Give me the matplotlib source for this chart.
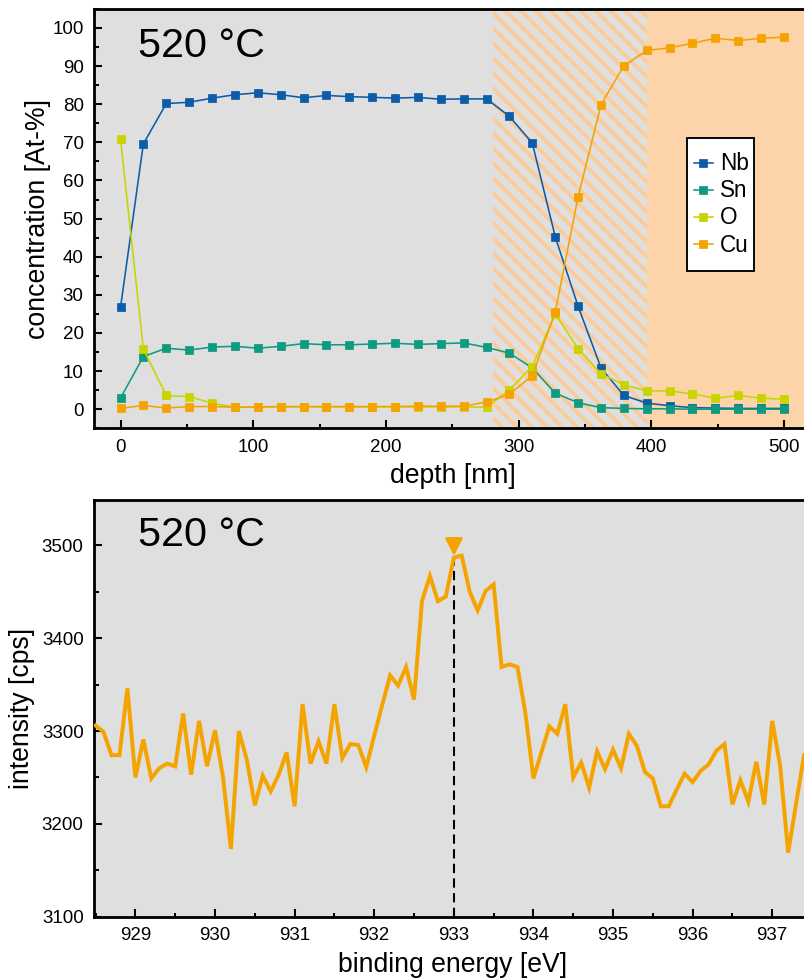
import numpy as np
import matplotlib
matplotlib.use("Agg")
import matplotlib.pyplot as plt
from matplotlib.ticker import MultipleLocator
from matplotlib.patches import Rectangle

plt.rcParams['font.family'] = ['Liberation Sans', 'DejaVu Sans']
plt.rcParams['hatch.linewidth'] = 2.0

DPI = 135

# ---- depth profile (520 °C) ----
depth_nm = [0.0, 17.2, 34.5, 51.7, 69.0, 86.2, 103.4, 120.7, 137.9, 155.2,
            172.4, 189.7, 206.9, 224.1, 241.4, 258.6, 275.9, 293.1, 310.3, 327.6,
            344.8, 362.1, 379.3, 396.6, 413.8, 431.0, 448.3, 465.5, 482.8, 500.0]
nb = [26.7, 69.6, 80.2, 80.5, 81.6, 82.5, 83.0, 82.5, 81.7, 82.3,
      82.0, 81.8, 81.6, 81.8, 81.3, 81.4, 81.4, 76.8, 69.8, 45.2,
      27.0, 10.8, 3.6, 1.6, 0.9, 0.4, 0.3, 0.2, 0.2, 0.2]
sn = [2.9, 13.8, 16.0, 15.5, 16.3, 16.5, 16.0, 16.5, 17.2, 16.9,
      16.9, 17.1, 17.3, 17.0, 17.2, 17.4, 16.2, 14.7, 10.8, 4.2,
      1.7, 0.4, 0.2, 0.1, 0.1, 0.0, 0.0, 0.0, 0.0, 0.0]
o = [70.8, 15.8, 3.6, 3.3, 1.6, 0.5, 0.5, 0.6, 0.6, 0.6,
     0.6, 0.6, 0.6, 0.6, 0.6, 0.6, 0.5, 5.1, 11.2, 25.0,
     15.9, 9.3, 6.4, 4.8, 4.8, 4.0, 2.9, 3.6, 2.9, 2.6]
cu = [0.2, 1.0, 0.3, 0.7, 0.7, 0.5, 0.6, 0.7, 0.7, 0.7,
      0.7, 0.7, 0.7, 0.8, 0.8, 0.8, 1.9, 3.9, 8.8, 25.5,
      55.7, 79.9, 90.1, 94.1, 94.8, 96.0, 97.3, 96.7, 97.3, 97.6]
series_names = ['Nb', 'Sn', 'O', 'Cu']
series_colors = ['#0b5ca9', '#0e9b7f', '#c8d400', '#f5a300']

interface_nm = [281, 397]    # mixed zone (hatched) and substrate start

# ---- Cu 2p3/2 spectrum ----
energy_ev = np.round(np.arange(928.5, 937.45, 0.1), 1)
intensity_cps = [3306, 3299, 3274, 3274, 3346,
                 3250, 3291, 3249, 3260, 3265, 3262, 3319, 3253, 3311, 3262,
                 3301, 3251, 3173, 3300, 3269, 3220, 3252, 3235, 3253, 3277,
                 3219, 3329, 3265, 3289, 3265, 3329, 3271, 3286, 3285, 3261,
                 3295, 3328, 3360, 3349, 3369, 3334, 3440, 3467, 3440, 3445,
                 3487, 3489, 3450, 3430, 3451, 3458, 3369, 3372, 3369, 3319,
                 3249, 3277, 3305, 3297, 3329, 3250, 3266, 3239, 3278, 3259,
                 3280, 3260, 3297, 3284, 3256, 3249, 3219, 3219, 3237, 3254,
                 3245, 3257, 3264, 3279, 3286, 3221, 3247, 3224, 3267, 3221,
                 3311, 3262, 3169, 3222, 3274]
peak_ev = 933.0
peak_marker_cps = 3499
peak_line_top = 3487

BG = '#dfdfdf'
ORANGE_FILL = '#fdd4a9'
HATCH_ORANGE = '#fccb98'
SPEC_COLOR = '#f5a300'

fig = plt.figure(figsize=(804 / DPI, 980 / DPI), dpi=DPI)
ax1 = fig.add_axes([0.1169, 0.5630, 0.9078, 0.4279])
ax2 = fig.add_axes([0.1169, 0.0646, 0.903, 0.4252])


def style_axes(ax):
    ax.set_facecolor(BG)
    for side in ['left', 'bottom', 'top', 'right']:
        ax.spines[side].set_linewidth(1.5)
        ax.spines[side].set_color('black')
    ax.tick_params(which='both', direction='in', top=False, right=False,
                   width=1.1, colors='black', labelsize=10, pad=5.5)
    ax.tick_params(which='major', length=4.5)
    ax.tick_params(which='minor', length=2.4)


# ---- top panel ----
style_axes(ax1)
ax1.axvspan(interface_nm[0], interface_nm[1], facecolor='none',
            edgecolor=HATCH_ORANGE, hatch='\\\\\\', linewidth=0, zorder=0.5)
ax1.axvspan(interface_nm[1], 600, facecolor=ORANGE_FILL, edgecolor='none',
            linewidth=0, zorder=0.5)
for name, vals, col in zip(series_names, [nb, sn, o, cu], series_colors):
    ax1.plot(depth_nm, vals, '-s', color=col, lw=0.85, ms=3.8,
             mec=col, mew=0.4, label=name, zorder=3)
ax1.set_xlim(-20, 530)
ax1.set_ylim(-5, 105)
ax1.xaxis.set_major_locator(MultipleLocator(100))
ax1.xaxis.set_minor_locator(MultipleLocator(50))
ax1.yaxis.set_major_locator(MultipleLocator(10))
ax1.yaxis.set_minor_locator(MultipleLocator(5))
ax1.set_xlabel('depth [nm]', fontsize=14.2)
ax1.set_ylabel('concentration [At-%]', fontsize=14.2)
ax1.xaxis.label.set_va('center')
ax1.yaxis.label.set_va('center')
ax1.xaxis.set_label_coords((453 - 94) / 730, -0.1138)
ax1.yaxis.set_label_coords(-0.0767, 0.5)
ax1.text(0.06, 0.8855, '520 °C', transform=ax1.transAxes, fontsize=22,
         ha='left', va='baseline')

# legend: white box with entries inside
ax1.add_patch(Rectangle((0.8123, 0.3751), 0.0918, 0.3172,
                        transform=ax1.transAxes, facecolor='white',
                        edgecolor='black', linewidth=1.0, zorder=5))
leg = ax1.legend(loc='center left', bbox_to_anchor=(0.8219, 0.5337),
                 borderaxespad=0, borderpad=0, fontsize=12, frameon=False,
                 handlelength=0.85, handletextpad=0.3, labelspacing=0.18,
                 numpoints=1)
leg.set_zorder(6)

# ---- bottom panel ----
style_axes(ax2)
ax2.plot([peak_ev, peak_ev], [3100, peak_line_top], color='black', lw=1.1,
         dashes=(4.5, 2.6), zorder=2)
ax2.plot(energy_ev, intensity_cps, color=SPEC_COLOR, lw=2.1, zorder=3,
         solid_joinstyle='miter')
ax2.plot([peak_ev], [peak_marker_cps], marker='v', color=SPEC_COLOR, ms=8.5,
         ls='none', zorder=4)
ax2.set_xlim(928.48, 937.6)
ax2.set_ylim(3100, 3549)
ax2.xaxis.set_major_locator(MultipleLocator(1))
ax2.xaxis.set_minor_locator(MultipleLocator(0.5))
ax2.yaxis.set_major_locator(MultipleLocator(100))
ax2.yaxis.set_minor_locator(MultipleLocator(50))
ax2.set_xlabel('binding energy [eV]', fontsize=14.2)
ax2.set_ylabel('intensity [cps]', fontsize=14.2)
ax2.xaxis.label.set_va('center')
ax2.yaxis.label.set_va('center')
ax2.xaxis.set_label_coords((453 - 94) / 726, -0.1159)
ax2.yaxis.set_label_coords(-0.0992, 0.5)
ax2.text(0.06, 0.8896, '520 °C', transform=ax2.transAxes, fontsize=22,
         ha='left', va='baseline')

fig.savefig('out.png', dpi=DPI)
